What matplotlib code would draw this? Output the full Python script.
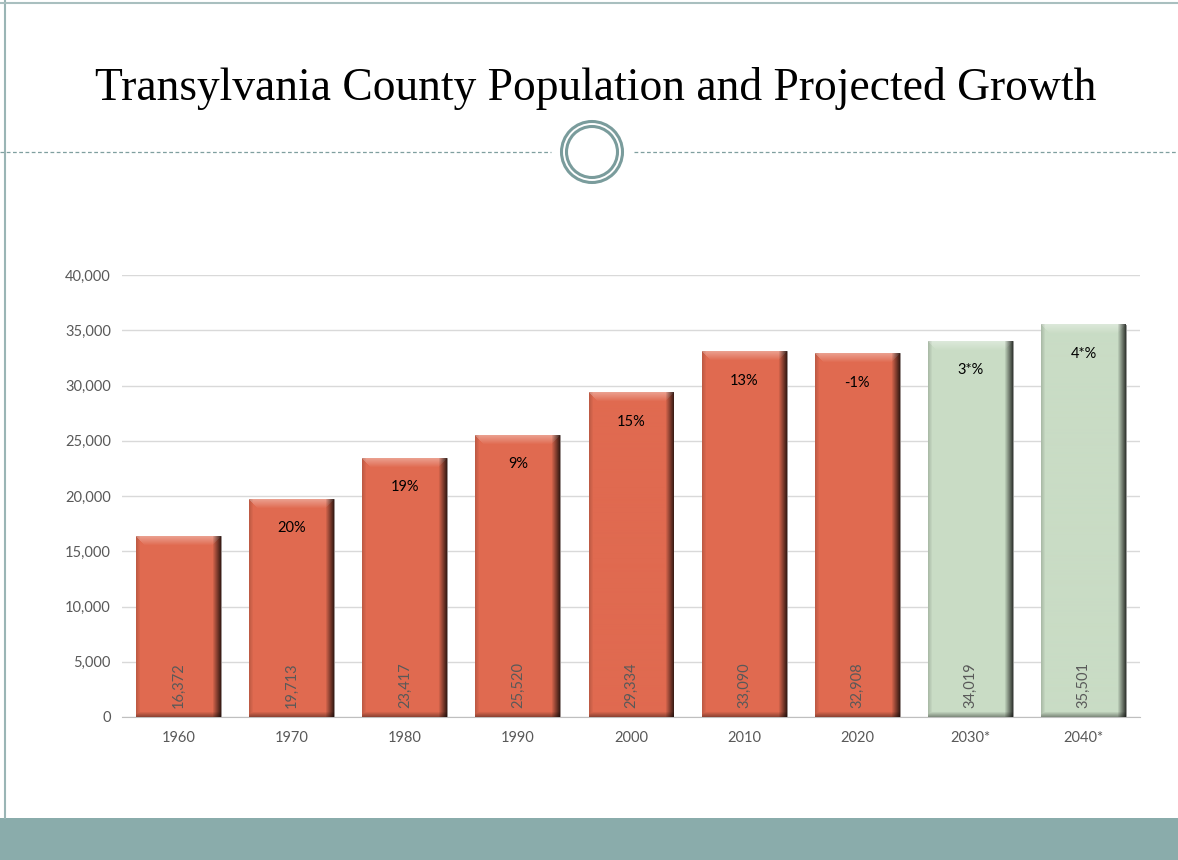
import numpy as np
import matplotlib
matplotlib.use("Agg")
import matplotlib.pyplot as plt
from matplotlib.patches import Circle, Rectangle
from matplotlib.lines import Line2D

# data
years = ["1960", "1970", "1980", "1990", "2000", "2010", "2020", "2030*", "2040*"]
population = [16372, 19713, 23417, 25520, 29334, 33090, 32908, 34019, 35501]
growth = ["", "20%", "19%", "9%", "15%", "13%", "-1%", "3*%", "4*%"]
projected = [False] * 7 + [True] * 2

title = "Transylvania County Population and Projected Growth"
yticks = list(range(0, 40001, 5000))

RED = np.array([0xE0, 0x6A, 0x50]) / 255.0
GREEN = np.array([0xC9, 0xDC, 0xC5]) / 255.0
FRAME = "#8AACAB"

fig = plt.figure(figsize=(11.78, 8.6), dpi=100)
fig.patch.set_facecolor("white")

# slide decoration
fig.add_artist(Rectangle((0, 0), 1, 42 / 860, transform=fig.transFigure,
                         facecolor=FRAME, edgecolor="none"))
fig.add_artist(Line2D([4.5 / 1178, 4.5 / 1178], [42 / 860, 1], transform=fig.transFigure,
                      color="#9AB5B5", lw=1.5))
fig.add_artist(Line2D([0, 1], [1 - 3 / 860, 1 - 3 / 860], transform=fig.transFigure,
                      color="#A9BFBF", lw=1.5))
ydash = 1 - 152 / 860
fig.add_artist(Line2D([0, 551 / 1178], [ydash, ydash], transform=fig.transFigure,
                      color="#7F9F9F", lw=0.9, ls=(0, (3, 2))))
fig.add_artist(Line2D([634 / 1178, 1], [ydash, ydash], transform=fig.transFigure,
                      color="#7F9F9F", lw=0.9, ls=(0, (3, 2))))
cax = fig.add_axes([0, 0, 1, 1], facecolor="none")
cax.set_xlim(0, 1178)
cax.set_ylim(860, 0)
cax.axis("off")
cax.add_patch(Circle((592, 152), 30.5, fill=False, edgecolor="#7A9C9C", lw=2.2))
cax.add_patch(Circle((592, 152), 25.5, fill=False, edgecolor="#7A9C9C", lw=2.2))

fig.text(596 / 1178, 1 - 88 / 860, title, ha="center", va="center",
         fontsize=32.8, family="Liberation Serif", color="black")

# chart
ax = fig.add_axes([122 / 1178, 1 - 717 / 860, 1018 / 1178, 442 / 860])
x = np.arange(len(years))
colors = [GREEN if p else RED for p in projected]
bars = ax.bar(x, population, width=0.75, color=colors, edgecolor="#8C8C8C",
              linewidth=0.6, zorder=2)
ax.set_xlim(-0.5, len(years) - 0.5)
ax.set_ylim(0, 40000)
ax.set_yticks(yticks)
ax.set_yticklabels([f"{v:,}" for v in yticks])
ax.set_xticks(x)
ax.set_xticklabels(years)
ax.grid(axis="y", color="#D9D9D9", lw=1, zorder=0)
ax.set_axisbelow(True)
for s in ["top", "right", "left"]:
    ax.spines[s].set_visible(False)
ax.spines["bottom"].set_color("#BFBFBF")
ax.tick_params(axis="both", length=0, labelsize=10.5, labelcolor="#595959", pad=10)
ax.tick_params(axis="y", pad=8)
for lab in ax.get_xticklabels() + ax.get_yticklabels():
    lab.set_family("Lato")

# bevel shading on each bar
px_x = 1018 / len(years)
px_per_unit = 442 / 40000
for b, c in zip(bars, colors):
    W = int(round(b.get_width() * px_x))
    H = int(round(b.get_height() * px_per_unit))
    rows = np.arange(H)[:, None]
    cols = np.arange(W)[None, :]
    dt = rows + 0 * cols
    db = H - 1 - rows + 0 * cols
    dl = cols + 0 * rows
    dr = W - 1 - cols + 0 * rows
    img = np.tile(c, (H, W, 1)).astype(float)
    # top highlight
    top = np.clip(1 - dt / 9.0, 0, 1) * (dt < 9) * (dr >= dt) * (dl >= dt)
    img = img + (1 - img) * (top[..., None] * 0.35)
    # right shadow
    right = np.clip(1 - dr / 8.0, 0, 1) * (dr < 8)
    img = img * (1 - right[..., None] * 0.72)
    # left and bottom edges
    left = np.clip(1 - dl / 4.0, 0, 1) * 0.15
    bottom = np.clip(1 - db / 5.0, 0, 1) * 0.35
    img = img * (1 - np.maximum(left, bottom)[..., None])
    ax.imshow(np.clip(img, 0, 1), extent=(b.get_x(), b.get_x() + b.get_width(), 0, b.get_height()),
              aspect="auto", origin="upper", zorder=3, interpolation="bilinear")

ax.set_xlim(-0.5, len(years) - 0.5)
ax.set_ylim(0, 40000)

# labels
for xi, v, g in zip(x, population, growth):
    ax.text(xi, 2900, f"{v:,}", rotation=90, ha="center", va="center",
            fontsize=10.5, color="#595959", family="Lato", zorder=4)
    if g:
        ax.annotate(g, (xi, v), xytext=(0, -21), textcoords="offset points",
                    ha="center", va="center", fontsize=10.5, color="black",
                    family="Lato", zorder=4)

fig.savefig("out.png", dpi=100)
